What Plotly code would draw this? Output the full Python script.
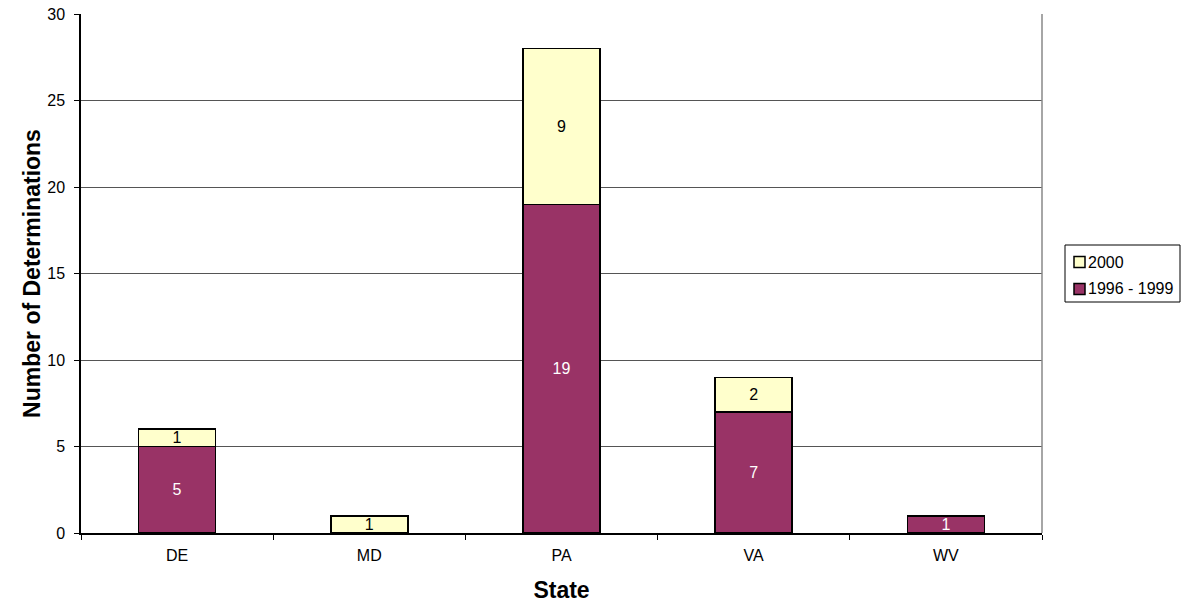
import plotly.graph_objects as go

states = ["DE", "MD", "PA", "VA", "WV"]
vals_9699 = [5, 0, 19, 7, 1]
vals_2000 = [1, 1, 9, 2, 0]
y_ticks = [0, 5, 10, 15, 20, 25, 30]
series_names = ["1996 - 1999", "2000"]
series_colors = ["#993366", "#FFFFCC"]
label_colors = ["white", "black"]

FONT = "Liberation Sans, Arial, sans-serif"
W, H = 1182, 605
ML, MR, MT, MB = 81, 140, 14, 72
PW, PH = W - ML - MR, H - MT - MB

def labels(v):
    return [str(x) if x > 0 else "" for x in v]

def px_x(p):
    return (p - ML) / PW

def px_y(p):
    return (H - MB - p) / PH

fig = go.Figure()
for name, vals, col, lcol in zip(series_names, [vals_9699, vals_2000], series_colors, label_colors):
    fig.add_trace(go.Bar(
        x=states, y=vals, name=name,
        marker=dict(color=col, line=dict(color="black", width=1.6)),
        text=labels(vals), textposition="inside", insidetextanchor="middle",
        textangle=0,
        textfont=dict(color=lcol, size=16, family=FONT),
        constraintext="none", hoverinfo="skip", showlegend=False,
    ))

# legend box drawn at the reference position (outside the plot area)
shapes = [
    dict(type="line", xref="paper", yref="paper", x0=1, x1=1, y0=0, y1=1,
         line=dict(color="#888888", width=1.5)),
    dict(type="rect", xref="paper", yref="paper",
         x0=px_x(1065), x1=px_x(1180), y0=px_y(302), y1=px_y(245),
         line=dict(color="black", width=1), fillcolor="white", layer="above"),
]
annotations = []
legend_rows = [(series_names[1], series_colors[1], 262), (series_names[0], series_colors[0], 289)]
for txt, col, yc in legend_rows:
    shapes.append(dict(type="rect", xref="paper", yref="paper",
                       x0=px_x(1074), x1=px_x(1085), y0=px_y(yc + 5.5), y1=px_y(yc - 5.5),
                       line=dict(color="black", width=1.5), fillcolor=col, layer="above"))
    annotations.append(dict(text=txt, xref="paper", yref="paper", x=px_x(1086), y=px_y(yc),
                            xanchor="left", yanchor="middle", showarrow=False,
                            font=dict(size=16, family=FONT, color="black")))

fig.update_layout(
    width=W, height=H,
    barmode="stack", bargap=0.6,
    plot_bgcolor="white", paper_bgcolor="white",
    font=dict(family=FONT, size=16, color="black"),
    margin=dict(l=ML, r=MR, t=MT, b=MB, autoexpand=False),
    uniformtext=dict(minsize=16, mode="show"),
    showlegend=False,
    xaxis=dict(
        title=dict(text="<b>State</b>", font=dict(size=23), standoff=19),
        showline=True, linecolor="black", linewidth=1.5,
        ticks="outside", ticklen=5, tickcolor="black", ticklabelstandoff=7,
        tickson="boundaries", mirror=False, showgrid=False,
        tickfont=dict(size=16),
    ),
    yaxis=dict(
        title=dict(text="<b>Number of Determinations</b>", font=dict(size=23), standoff=0),
        range=[0, 30], tickvals=y_ticks,
        showline=True, linecolor="black", linewidth=1.5,
        ticks="outside", ticklen=5, tickcolor="black", ticklabelstandoff=6,
        showgrid=True, gridcolor="#555555", gridwidth=1,
        zeroline=False, tickfont=dict(size=16),
    ),
    shapes=shapes,
    annotations=annotations,
)

fig.write_html("out.html", config={"displayModeBar": False},
               post_script="document.body.style.margin='0';")
